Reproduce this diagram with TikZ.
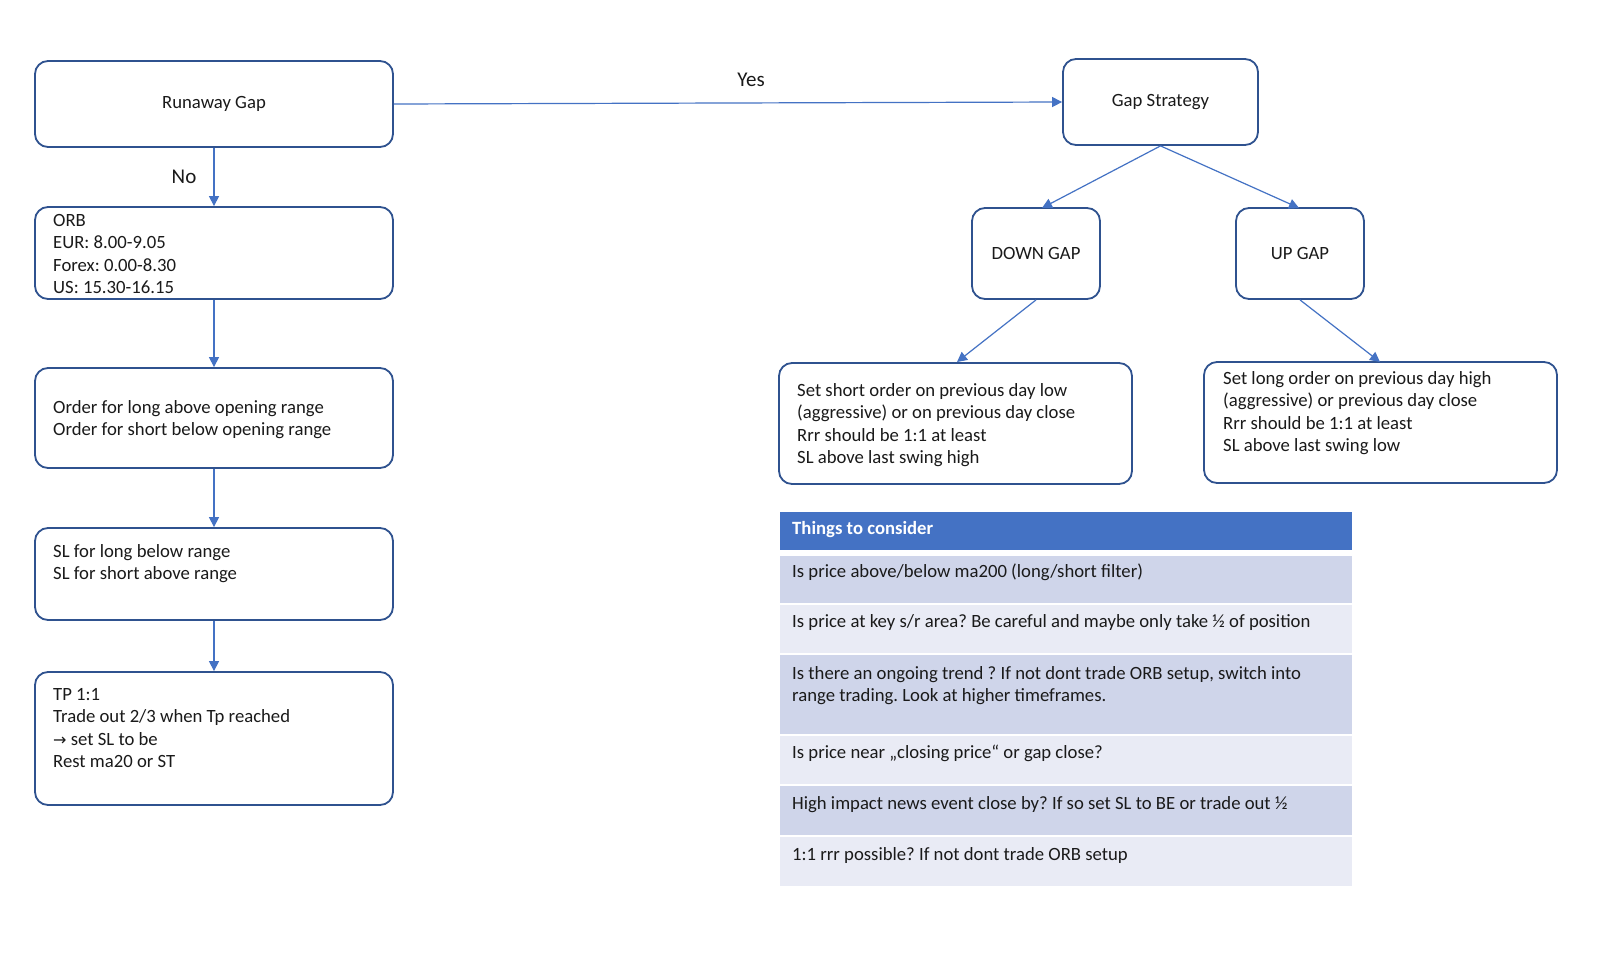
\documentclass[tikz,border=0pt]{standalone}
\usepackage{fontspec}
\setmainfont{Carlito}
\newfontfamily\symfont{DejaVu Sans}
\usetikzlibrary{arrows.meta}
\frenchspacing
\definecolor{boxline}{HTML}{2F528F}
\definecolor{arrowc}{HTML}{4472C4}
\definecolor{hdr}{HTML}{4472C4}
\definecolor{rowA}{HTML}{CFD5EA}
\definecolor{rowB}{HTML}{E9EBF5}
\definecolor{txtc}{HTML}{1A1A1A}
\tikzset{
  flowbox/.style={draw=boxline, line width=1.8pt, rounded corners=13pt, fill=white, inner sep=0pt, text=txtc,
    font=\fontsize{18.7}{22.5}\selectfont},
  conn/.style={draw=arrowc, line width=1.2pt, -{Triangle[length=10pt,width=10pt]}},
  ltxt/.style={anchor=north west, inner sep=0pt, align=left, text=txtc, font=\fontsize{18.7}{22.5}\selectfont},
  lbl/.style={inner sep=0pt, text=txtc, font=\fontsize{21}{24}\selectfont},
  rowbox/.style={draw=none, inner sep=0pt, anchor=north west},
}
\begin{document}
\begin{tikzpicture}[x=1pt,y=-1pt]
\useasboundingbox (0,0) rectangle (1600,964);
\fill[white] (0,0) rectangle (1600,964);

% left column
\node[flowbox, minimum width=358pt, minimum height=86pt] (rg) at (214,104) {Runaway Gap};
\node[flowbox, minimum width=358pt, minimum height=92pt] (orb) at (214,253) {};
\node[ltxt] (orbt) at (53,210.5) {\strut ORB\\EUR: 8.00-9.05\\Forex: 0.00-8.30\\US: 15.30-16.15};
\node[flowbox, minimum width=358pt, minimum height=100pt] (ord) at (214,418) {};
\node[ltxt] (ordt) at (53,397.5) {\strut Order for long above opening range\\Order for short below opening range};
\node[flowbox, minimum width=358pt, minimum height=92pt] (sl) at (214,574) {};
\node[ltxt] (slt) at (53,541.5) {\strut SL for long below range\\SL for short above range};
\node[flowbox, minimum width=358pt, minimum height=133pt] (tp) at (214,738.5) {};
\node[ltxt] (tpt) at (53,684.5) {\strut TP 1:1\\Trade out 2/3 when Tp reached\\{\symfont\fontsize{16}{22.5}\selectfont →} set SL to be\\Rest ma20 or ST};

\draw[conn] (rg.south) -- (orb.north);
\node[lbl] (no) at (184,177) {No};
\draw[conn] (orb.south) -- (ord.north);
\draw[conn] (ord.south) -- (sl.north);
\draw[conn] (sl.south) -- (tp.north);

% right part
\node[flowbox, minimum width=195pt, minimum height=86pt] (gs) at (1160.5,102) {Gap Strategy};
\draw[conn] (rg.east) -- (gs.west);
\node[lbl] (yes) at (751,80) {Yes};

\node[flowbox, minimum width=128pt, minimum height=91pt] (dg) at (1036,253.5) {DOWN GAP};
\node[flowbox, minimum width=128pt, minimum height=91pt] (ug) at (1300,253.5) {UP GAP};
\draw[conn] (gs.south) -- (1042,208);
\draw[conn] (gs.south) -- (1299,208);

\node[flowbox, minimum width=353pt, minimum height=121pt] (sh) at (955.5,423.5) {};
\node[ltxt] (sht) at (797,380.5) {\strut Set short order on previous day low\\(aggressive) or on previous day close\\Rrr should be 1:1 at least\\SL above last swing high};
\node[flowbox, minimum width=353pt, minimum height=121pt] (lo) at (1380.5,422.5) {};
\node[ltxt] (lot) at (1223,368.5) {\strut Set long order on previous day high\\(aggressive) or previous day close\\Rrr should be 1:1 at least\\SL above last swing low};

\draw[conn] (dg.south) -- (957,362);
\draw[conn] (ug.south) -- (1380,362);

% table
\node[rowbox, fill=hdr, minimum width=572pt, minimum height=38pt] (th) at (780,512) {};
\node[ltxt, text=white, font=\fontsize{18.7}{22.5}\selectfont\bfseries] (tht) at (792,518.5) {\strut Things to consider};
\node[rowbox, fill=rowA, minimum width=572pt, minimum height=47pt] (r1) at (780,556) {};
\node[ltxt] (r1t) at (792,561.5) {\strut Is price above/below ma200 (long/short filter)};
\node[rowbox, fill=rowB, minimum width=572pt, minimum height=48pt] (r2) at (780,605) {};
\node[ltxt] (r2t) at (792,611.5) {\strut Is price at key s/r area? Be careful and maybe only take ½ of position};
\node[rowbox, fill=rowA, minimum width=572pt, minimum height=79pt] (r3) at (780,655) {};
\node[ltxt] (r3t) at (792,663.5) {\strut Is there an ongoing trend ? If not dont trade ORB setup, switch into\\range trading. Look at higher timeframes.};
\node[rowbox, fill=rowB, minimum width=572pt, minimum height=48pt] (r4) at (780,736) {};
\node[ltxt] (r4t) at (792,742.5) {\strut Is price near „closing price“ or gap close?};
\node[rowbox, fill=rowA, minimum width=572pt, minimum height=49pt] (r5) at (780,786) {};
\node[ltxt] (r5t) at (792,793.5) {\strut High impact news event close by? If so set SL to BE or trade out ½};
\node[rowbox, fill=rowB, minimum width=572pt, minimum height=49pt] (r6) at (780,837) {};
\node[ltxt] (r6t) at (792,844.5) {\strut 1:1 rrr possible? If not dont trade ORB setup};
\end{tikzpicture}
\end{document}
